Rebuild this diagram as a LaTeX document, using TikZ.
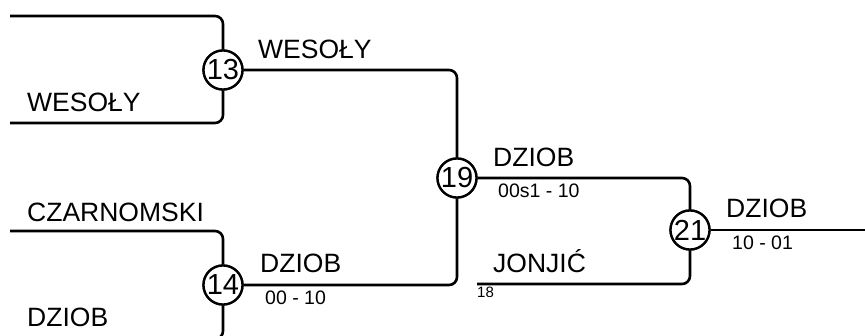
\documentclass[tikz,border=0pt]{standalone}
\usepackage{fontspec}
\setmainfont{Liberation Sans}
\begin{document}
\begin{tikzpicture}[x=1pt,y=-1pt,
  wire/.style={line width=2.6pt,rounded corners=8pt},
  match/.style={circle,draw,line width=2.3pt,fill=white,minimum size=39pt,inner sep=0pt,font=\fontsize{29}{29}\selectfont},
  player/.style={anchor=base west,inner sep=0pt,font=\fontsize{26.5}{26.5}\selectfont},
  score/.style={anchor=base west,inner sep=0pt,font=\fontsize{19.5}{19.5}\selectfont},
  seed/.style={anchor=base west,inner sep=0pt,font=\fontsize{15}{15}\selectfont}]
\useasboundingbox (0,0) rectangle (865,336);
\clip (0,0) rectangle (865,336);
% free ends
\coordinate (a13) at (10,16);
\coordinate (b13) at (10,123);
\coordinate (a14) at (10,231);
\coordinate (b14) at (10,339);
\coordinate (c18) at (477,284);
\coordinate (e21) at (866,230);
% matches
\node[match] (m13) at (223,70) {13};
\node[match] (m14) at (223,285) {14};
\node[match] (m19) at (457,178) {19};
\node[match] (m21) at (690,230) {21};
% wires
\draw[wire] (a13) -| (m13.north);
\draw[wire] (b13) -| (m13.south);
\draw[wire] (a14) -| (m14.north);
\draw[wire] (b14) -| (m14.south);
\draw[wire] (m13.east) -| (m19.north);
\draw[wire] (m14.east) -| (m19.south);
\draw[wire] (m19.east) -| (m21.north);
\draw[wire] (c18) -| (m21.south);
\draw[wire] (m21.east) -- (e21);
% redraw circles on top
\node[match] at (m13) {13};
\node[match] at (m14) {14};
\node[match] at (m19) {19};
\node[match] at (m21) {21};
% labels
\node[player] (p1) at (27,112) {WESOŁY};
\node[player] (p2) at (258,59) {WESOŁY};
\node[player] (p3) at (27,222) {CZARNOMSKI};
\node[player] (p4) at (27,327) {DZIOB};
\node[player] (p5) at (260,273) {DZIOB};
\node[score] (s5) at (265,305) {00 - 10};
\node[player] (p6) at (493,167) {DZIOB};
\node[score] (s6) at (498,198) {00s1 - 10};
\node[player] (p7) at (493,273) {JONJIĆ};
\node[seed] (s7) at (477,298) {18};
\node[player] (p8) at (726,218) {DZIOB};
\node[score] (s8) at (732,250) {10 - 01};
\end{tikzpicture}
\end{document}
